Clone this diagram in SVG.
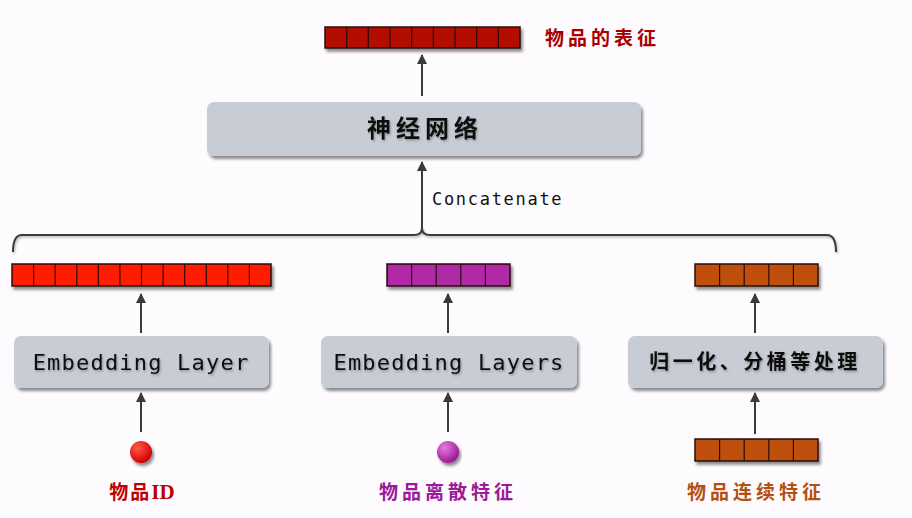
<svg xmlns="http://www.w3.org/2000/svg" width="912" height="518" viewBox="0 0 912 518">
<defs>
<filter id="sh" x="-10%" y="-20%" width="120%" height="150%">
<feDropShadow dx="2" dy="3" stdDeviation="1.8" flood-color="#000" flood-opacity="0.45"/>
</filter>
<filter id="ts" x="-5%" y="-20%" width="110%" height="150%">
<feDropShadow dx="1" dy="1.5" stdDeviation="0.8" flood-color="#000" flood-opacity="0.3"/>
</filter>
<marker id="ah" viewBox="0 0 10 10" refX="9" refY="5" markerWidth="5" markerHeight="5" orient="auto-start-reverse">
<path d="M0,0 L10,5 L0,10 z" fill="#3a3a3a"/>
</marker>
<radialGradient id="gr" cx="0.35" cy="0.3" r="0.7">
<stop offset="0" stop-color="#ff5a4a"/><stop offset="1" stop-color="#d40000"/>
</radialGradient>
<radialGradient id="gp" cx="0.35" cy="0.3" r="0.7">
<stop offset="0" stop-color="#e77ae0"/><stop offset="1" stop-color="#9a1a94"/>
</radialGradient>
</defs>
<style>
.box{fill:#c8ccd5;filter:url(#sh)}
.bar{stroke:#2a0a0a;stroke-width:1.5;filter:url(#sh)}
.cell{stroke:#2a0a0a;stroke-width:1.2}
.conn{stroke:#3a3a3a;stroke-width:2;fill:none}
.mono{font-family:"DejaVu Sans Mono","Liberation Mono",monospace;fill:#111}
.cjk{font-family:"Noto Sans CJK SC","Noto Sans",sans-serif}
</style>
<rect width="912" height="518" fill="#fdfbfd"/>

<g id="connectors">
<line class="conn" x1="422" y1="96" x2="422" y2="55" marker-end="url(#ah)"/>
<line class="conn" x1="422" y1="228" x2="422" y2="162" marker-end="url(#ah)"/>
<path class="conn" d="M13,252 Q13,235 22,235 L414,235 Q422,235 422,228 Q422,235 430,235 L827,235 Q836,235 836,252" style="filter:url(#ts)"/>
<line class="conn" x1="141" y1="333" x2="141" y2="294" marker-end="url(#ah)"/>
<line class="conn" x1="448" y1="333" x2="448" y2="294" marker-end="url(#ah)"/>
<line class="conn" x1="755" y1="333" x2="755" y2="294" marker-end="url(#ah)"/>
<line class="conn" x1="141" y1="432" x2="141" y2="393" marker-end="url(#ah)"/>
<line class="conn" x1="448" y1="432" x2="448" y2="393" marker-end="url(#ah)"/>
<line class="conn" x1="755" y1="434" x2="755" y2="393" marker-end="url(#ah)"/>
<text class="mono" x="432" y="205" font-size="17" letter-spacing="1.7">Concatenate</text>
</g>

<g id="output-vector">
<rect class="bar" x="325" y="27" width="195" height="21" fill="#b30f00"/>
<path class="cell" d="M346.7,27V48M368.3,27V48M390,27V48M411.7,27V48M433.3,27V48M455,27V48M476.7,27V48M498.3,27V48"/>
<text class="cjk" x="545" y="45" font-size="19" letter-spacing="4" fill="#a80000" font-weight="bold">物品的表征</text>
</g>

<g id="nn">
<rect class="box" x="207" y="102" width="434" height="54" rx="7"/>
<text class="cjk" x="425" y="137" font-size="24" letter-spacing="5" text-anchor="middle" fill="#111" font-weight="bold" style="filter:url(#ts)">神经网络</text>
</g>

<g id="id-vector">
<rect class="bar" x="12" y="264" width="259" height="22" fill="#ff1a00"/>
<path class="cell" d="M33.6,264V286M55.2,264V286M76.8,264V286M98.3,264V286M119.9,264V286M141.5,264V286M163.1,264V286M184.7,264V286M206.3,264V286M227.8,264V286M249.4,264V286"/>
</g>
<g id="disc-vector">
<rect class="bar" x="387" y="264" width="123" height="22" fill="#b02aa8"/>
<path class="cell" d="M411.6,264V286M436.2,264V286M460.8,264V286M485.4,264V286"/>
</g>
<g id="cont-vector">
<rect class="bar" x="695" y="264" width="123" height="22" fill="#bf5010"/>
<path class="cell" d="M719.6,264V286M744.2,264V286M768.8,264V286M793.4,264V286"/>
</g>

<g id="emb1">
<rect class="box" x="14" y="336" width="255" height="52" rx="7"/>
<text class="mono" x="141" y="370" font-size="22" letter-spacing="1.2" text-anchor="middle" style="filter:url(#ts)">Embedding Layer</text>
</g>
<g id="emb2">
<rect class="box" x="321" y="336" width="256" height="52" rx="7"/>
<text class="mono" x="449" y="370" font-size="22" letter-spacing="1.2" text-anchor="middle" style="filter:url(#ts)">Embedding Layers</text>
</g>
<g id="norm">
<rect class="box" x="628" y="336" width="255" height="52" rx="7"/>
<text class="cjk" x="755" y="369" font-size="20" letter-spacing="3.5" text-anchor="middle" fill="#111" font-weight="bold" style="filter:url(#ts)">归一化、分桶等处理</text>
</g>

<g id="item-id">
<circle cx="141" cy="452" r="11" fill="url(#gr)" style="filter:url(#sh)"/>
<text class="cjk" x="142" y="499" font-size="19" text-anchor="middle" fill="#c00000" font-weight="bold" letter-spacing="2">物品<tspan font-family="Liberation Serif,serif" font-size="21" letter-spacing="0">ID</tspan></text>
</g>
<g id="item-disc">
<circle cx="448" cy="452" r="11" fill="url(#gp)" style="filter:url(#sh)"/>
<text class="cjk" x="448" y="499" font-size="19" text-anchor="middle" fill="#9a1a9a" font-weight="bold" letter-spacing="4">物品离散特征</text>
</g>
<g id="item-cont">
<rect class="bar" x="695" y="439" width="123" height="22" fill="#bf5010"/>
<path class="cell" d="M719.6,439V461M744.2,439V461M768.8,439V461M793.4,439V461"/>
<text class="cjk" x="756" y="499" font-size="19" text-anchor="middle" fill="#b35012" font-weight="bold" letter-spacing="4">物品连续特征</text>
</g>
</svg>
